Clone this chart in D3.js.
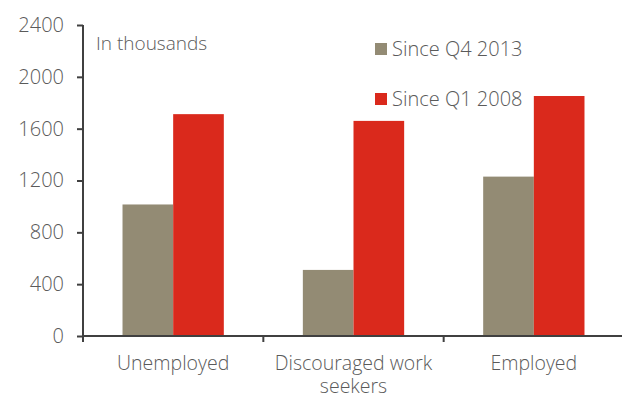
<!DOCTYPE html>
<html>
<head>
<meta charset="utf-8">
<script src="https://cdn.jsdelivr.net/npm/d3@7"></script>
<style>
  body { margin: 0; background: #fff; }
  svg text { font-family: "Open Sans", sans-serif; font-weight: 300; fill: #5a5a5a; }
</style>
</head>
<body>
<div id="chart"></div>
<script>
// données
const categories = [["Unemployed"], ["Discouraged work", "seekers"], ["Employed"]];
const seriesNames = ["Since Q4 2013", "Since Q1 2008"];
const sinceQ42013 = [1015, 510, 1230];
const sinceQ12008 = [1712, 1660, 1852];
const yTicks = [0, 400, 800, 1200, 1600, 2000, 2400];
const colors = ["#938b74", "#da291c"];

const width = 622, height = 397;
const margin = { top: 25, right: -2, bottom: 61, left: 83 };

const svg = d3.select('#chart').append('svg')
    .attr('width', width)
    .attr('height', height);

const x = d3.scaleBand()
    .domain(d3.range(categories.length))
    .range([margin.left, width - margin.right])
    .paddingInner(0)
    .paddingOuter(0);

const x1 = d3.scaleBand()
    .domain(d3.range(seriesNames.length))
    .range([0, x.bandwidth()])
    .paddingOuter(0.78)
    .paddingInner(0);

const y = d3.scaleLinear()
    .domain([0, 2400])
    .range([height - margin.bottom, margin.top]);

const series = [sinceQ42013, sinceQ12008];

// barres
const groups = svg.append('g')
    .selectAll('g')
    .data(categories)
    .enter()
    .append('g')
    .attr('transform', (d, i) => `translate(${x(i)},0)`);

groups.selectAll('rect')
    .data((d, i) => series.map((s, k) => ({ k, v: s[i] })))
    .enter()
    .append('rect')
    .attr('x', d => x1(d.k))
    .attr('width', x1.bandwidth())
    .attr('y', d => y(d.v))
    .attr('height', d => y(0) - y(d.v))
    .attr('fill', d => colors[d.k]);

// axe Y
const yAxis = svg.append('g')
    .attr('transform', `translate(${margin.left},0)`)
    .call(d3.axisLeft(y).tickValues(yTicks).tickSize(6).tickPadding(13).tickFormat(d3.format('d')));
yAxis.select('.domain').attr('stroke', '#404040').attr('stroke-width', 2)
    .attr('d', `M0,${margin.top}V${y(0) + 6}`);
yAxis.selectAll('.tick line').attr('stroke', '#404040').attr('stroke-width', 2);
yAxis.selectAll('.tick text').style('font-size', '20px').attr('fill', '#5a5a5a');

// axe X
const xAxis = svg.append('g')
    .attr('transform', `translate(0,${y(0)})`);
xAxis.append('line')
    .attr('x1', margin.left).attr('x2', width)
    .attr('stroke', '#404040').attr('stroke-width', 2);
xAxis.selectAll('.xt')
    .data(d3.range(categories.length + 1))
    .enter()
    .append('line')
    .attr('class', 'xt')
    .attr('x1', i => i < categories.length ? x(i) : width - margin.right)
    .attr('x2', i => i < categories.length ? x(i) : width - margin.right)
    .attr('y1', 0).attr('y2', 6)
    .attr('stroke', '#404040').attr('stroke-width', 2);

const labels = xAxis.selectAll('.xl')
    .data(categories)
    .enter()
    .append('text')
    .attr('class', 'xl')
    .attr('text-anchor', 'middle')
    .style('font-size', '19.5px')
    .attr('transform', (d, i) => `translate(${x(i) + x.bandwidth() / 2},34)`);
labels.selectAll('tspan')
    .data(d => d)
    .enter()
    .append('tspan')
    .attr('x', 0)
    .attr('dy', (d, j) => j === 0 ? 0 : 23)
    .text(d => d);

// unité
svg.append('text')
    .attr('x', 96)
    .attr('y', 50)
    .style('font-size', '19px')
    .text('In thousands');

// légende
const legend = svg.append('g')
    .selectAll('g')
    .data(seriesNames)
    .enter()
    .append('g')
    .attr('transform', (d, i) => `translate(375,${43 + i * 50})`);
legend.append('rect')
    .attr('width', 12).attr('height', 12)
    .attr('fill', (d, i) => colors[i]);
legend.append('text')
    .attr('x', 17)
    .attr('y', 12.5)
    .style('font-size', '20px')
    .text(d => d);
</script>
</body>
</html>
